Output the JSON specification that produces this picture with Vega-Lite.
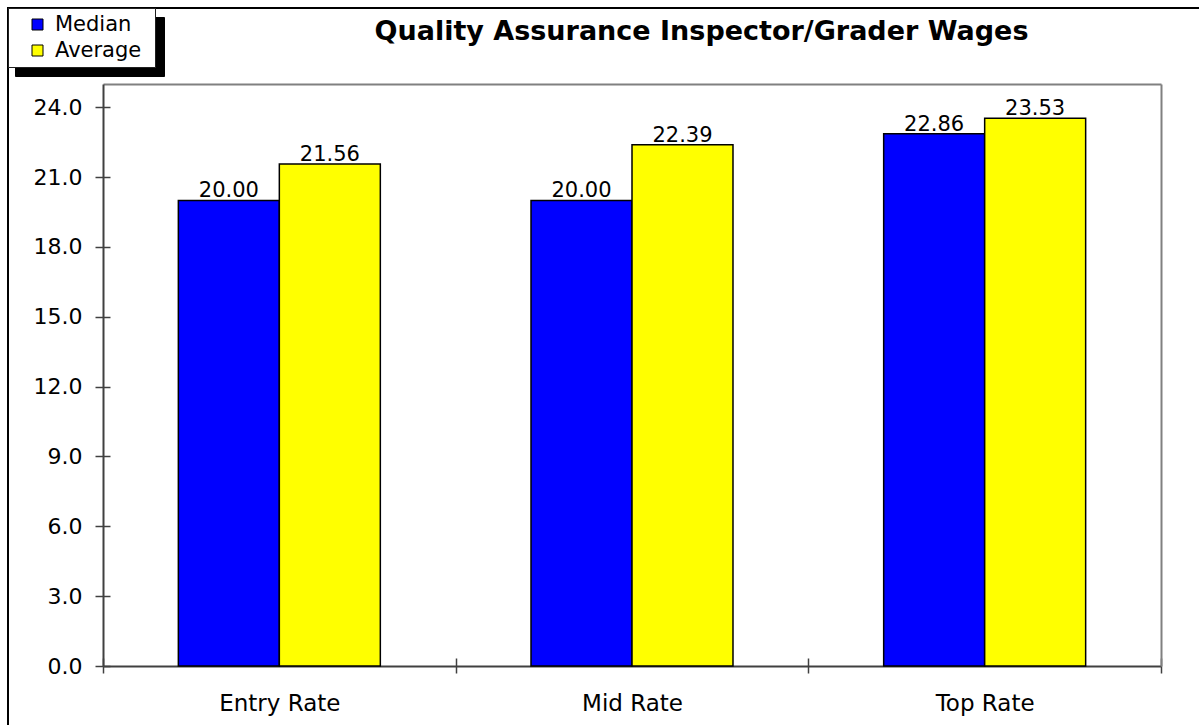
{
  "$schema": "https://vega.github.io/schema/vega-lite/v6.json",
  "width": 1195,
  "height": 721,
  "autosize": {"type": "none"},
  "padding": {"left": 8, "top": 8, "right": -4, "bottom": -4},
  "background": "white",
  "title": {
    "text": "Quality Assurance Inspector/Grader Wages",
    "anchor": "middle",
    "frame": "group",
    "orient": "top",
    "offset": -36,
    "baseline": "alphabetic",
    "dx": 96,
    "dy": 23,
    "font": "DejaVu Sans",
    "fontSize": 27,
    "fontWeight": "bold",
    "color": "black"
  },
  "data": {
    "values": [
      {"rate": "Entry Rate", "series": "Median", "value": 20.00},
      {"rate": "Entry Rate", "series": "Average", "value": 21.56},
      {"rate": "Mid Rate", "series": "Median", "value": 20.00},
      {"rate": "Mid Rate", "series": "Average", "value": 22.39},
      {"rate": "Top Rate", "series": "Median", "value": 22.86},
      {"rate": "Top Rate", "series": "Average", "value": 23.53}
    ]
  },
  "layer": [
    {
      "mark": {"type": "bar", "stroke": "black", "strokeWidth": 1.5},
      "encoding": {
        "x": {
          "field": "rate", "type": "nominal",
          "sort": ["Entry Rate", "Mid Rate", "Top Rate"],
          "scale": {"range": [95, 1153], "paddingInner": 0, "paddingOuter": 0},
          "axis": {
            "orient": "bottom", "offset": -63, "tickBand": "extent",
            "tickSize": 7, "labelPadding": 19, "labelAngle": 0, "labelFontSize": 23,
            "title": null, "domainColor": "#404040", "domainWidth": 2,
            "tickColor": "#404040", "tickWidth": 1.5
          }
        },
        "xOffset": {
          "field": "series", "type": "nominal", "sort": ["Median", "Average"],
          "scale": {"paddingInner": 0, "paddingOuter": 0.746}
        },
        "y": {
          "field": "value", "type": "quantitative",
          "scale": {"domain": [0, 25], "range": [658, 76], "nice": false},
          "axis": {
            "orient": "left", "offset": -95,
            "values": [0, 3, 6, 9, 12, 15, 18, 21, 24], "format": ".1f",
            "tickSize": 8, "labelPadding": 13, "labelFontSize": 22,
            "title": null, "domainColor": "#404040", "domainWidth": 2,
            "tickColor": "#404040", "tickWidth": 1.5
          }
        },
        "color": {
          "field": "series", "type": "nominal",
          "scale": {"domain": ["Median", "Average"], "range": ["#0000FF", "#FFFF00"]},
          "legend": {
            "orient": "top-left", "offset": 0, "title": " ",
            "fillColor": "white", "strokeColor": "#202020",
            "symbolStrokeColor": "black", "symbolStrokeWidth": 1,
            "labelColor": "black", "zindex": 2
          }
        }
      }
    },
    {
      "mark": {"type": "text", "baseline": "alphabetic", "align": "center", "dy": -3, "fontSize": 21, "font": "DejaVu Sans", "color": "black"},
      "encoding": {
        "x": {
          "field": "rate", "type": "nominal",
          "sort": ["Entry Rate", "Mid Rate", "Top Rate"],
          "scale": {"range": [95, 1153], "paddingInner": 0, "paddingOuter": 0},
          "axis": {
            "orient": "top", "offset": -76, "labels": false, "ticks": false,
            "domainColor": "#808080", "domainWidth": 2, "title": null
          }
        },
        "xOffset": {
          "field": "series", "type": "nominal", "sort": ["Median", "Average"],
          "scale": {"paddingInner": 0, "paddingOuter": 0.746}
        },
        "y": {
          "field": "value", "type": "quantitative",
          "scale": {"domain": [0, 25], "range": [658, 76], "nice": false},
          "axis": {
            "orient": "right", "offset": -42, "labels": false, "ticks": false,
            "domainColor": "#808080", "domainWidth": 2, "title": null
          }
        },
        "text": {"field": "value", "type": "quantitative", "format": ".2f"},
        "opacity": {
          "field": "series", "type": "nominal",
          "scale": {"domain": ["Median", "Average"], "range": [1, 1]},
          "legend": {
            "orient": "none", "legendX": 7, "legendY": 9, "title": " ",
            "fillColor": "black", "strokeColor": "black",
            "symbolFillColor": "black", "symbolStrokeColor": "black",
            "labelExpr": "''", "labelOffset": 94.5,
            "labelColor": "black", "zindex": 1
          }
        }
      }
    },
    {
      "mark": {"type": "bar", "opacity": 0},
      "encoding": {
        "x": {
          "field": "rate", "type": "nominal",
          "sort": ["Entry Rate", "Mid Rate", "Top Rate"],
          "scale": {"range": [95, 1153], "paddingInner": 0, "paddingOuter": 0},
          "axis": {
            "orient": "bottom", "offset": -63, "tickBand": "extent",
            "tickSize": -8, "labels": false, "domain": false,
            "title": null, "tickColor": "#404040", "tickWidth": 1.5
          }
        },
        "xOffset": {
          "field": "series", "type": "nominal", "sort": ["Median", "Average"],
          "scale": {"paddingInner": 0, "paddingOuter": 0.746}
        },
        "y": {
          "field": "value", "type": "quantitative",
          "scale": {"domain": [0, 25], "range": [658, 76], "nice": false},
          "axis": {
            "orient": "left", "offset": -95,
            "values": [0, 3, 6, 9, 12, 15, 18, 21, 24],
            "tickSize": -7, "labels": false, "domain": false,
            "title": null, "tickColor": "#404040", "tickWidth": 1.5
          }
        }
      }
    }
  ],
  "resolve": {"axis": {"x": "independent", "y": "independent"}},
  "config": {
    "view": {"stroke": "black", "strokeWidth": 2},
    "axis": {"labelFont": "DejaVu Sans", "labelColor": "black", "grid": false},
    "legend": {
      "labelFont": "DejaVu Sans", "labelFontSize": 21,
      "symbolType": "square", "symbolSize": 121,
      "padding": 6, "rowPadding": 4, "symbolOffset": 13, "labelOffset": 7,
      "titleOrient": "right", "titleFontSize": 12, "titlePadding": 8
    }
  }
}
